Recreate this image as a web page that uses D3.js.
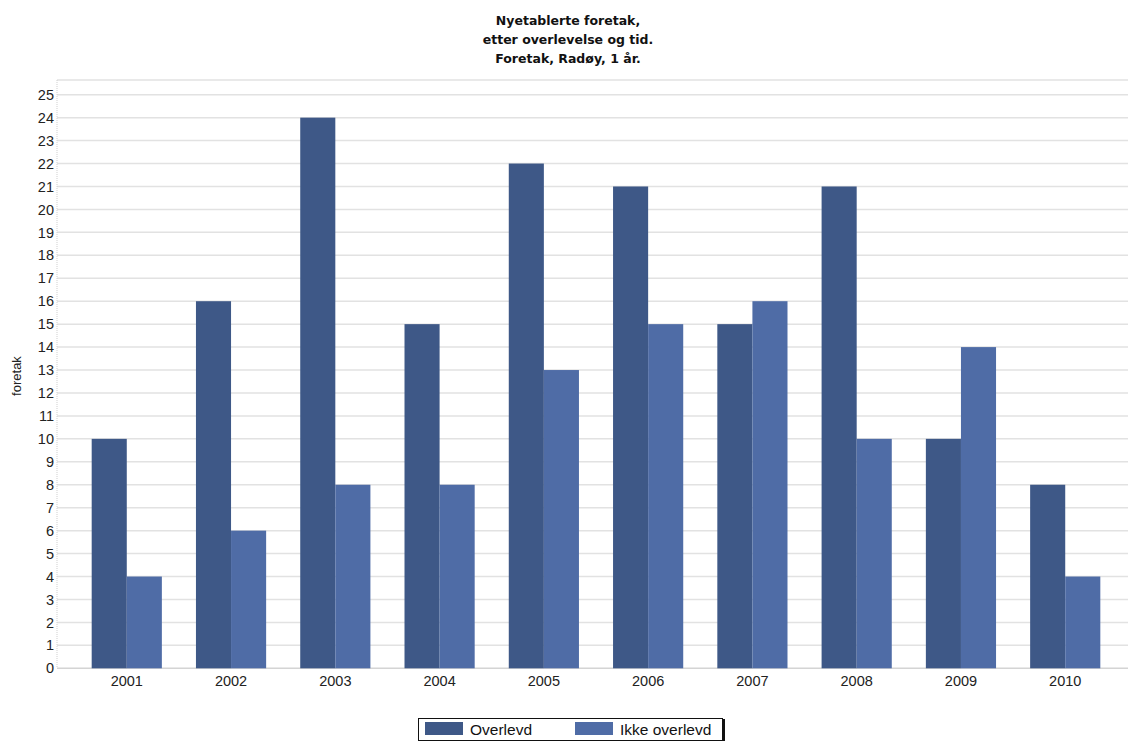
<!DOCTYPE html>
<html><head><meta charset="utf-8">
<script src="https://cdn.jsdelivr.net/npm/d3@7/dist/d3.min.js"></script>
<style>body{margin:0;background:#fff}svg{display:block;font-family:"Liberation Sans",Arial,sans-serif}</style>
</head><body><svg id="c" width="1128" height="741"></svg>
<script>
const years = ["2001","2002","2003","2004","2005","2006","2007","2008","2009","2010"];
const overlevd = [10,16,24,15,22,21,15,21,10,8];
const ikkeOverlevd = [4,6,8,8,13,15,16,10,14,4];
const seriesNames = ["Overlevd","Ikke overlevd"];
const yTicks = d3.range(0,26);
const titleLines = ["Nyetablerte foretak,","etter overlevelse og tid.","Foretak, Radøy, 1 år."];
const colors = ["#3e5887","#4f6ca6"];

const svg = d3.select("#c");
const plotL = 57, plotR = 1128, plotT = 80, plotB = 668;
const x = d3.scaleBand().domain(years).range([75, 1117]).paddingInner(0.327).paddingOuter(0.16);
const y = d3.scaleLinear().domain([0,25]).range([668.3, 94.7]);
const xs = d3.scaleBand().domain(seriesNames).range([0, x.bandwidth()]);

// grid
svg.append("line").attr("x1",plotL).attr("x2",plotR).attr("y1",plotT).attr("y2",plotT).attr("stroke","#e2e2e2").attr("stroke-width",1.5);
svg.append("g").selectAll("line").data(yTicks).join("line")
  .attr("x1",plotL).attr("x2",plotR).attr("y1",d=>y(d)).attr("y2",d=>y(d))
  .attr("stroke",d=>d===0?"#d4d4d4":"#e2e2e2").attr("stroke-width",1.5);
svg.append("line").attr("x1",plotL).attr("x2",plotL).attr("y1",plotT).attr("y2",plotB)
  .attr("stroke","#cfcfcf").attr("stroke-dasharray","1,1");

// y axis labels
const yAxis = d3.axisLeft(y).tickValues(yTicks).tickSize(0).tickPadding(0).tickFormat(d3.format("d"));
const ga = svg.append("g").attr("transform","translate(54,0)").call(yAxis);
ga.select(".domain").remove();
ga.selectAll("text").attr("font-size",14.5).attr("fill","#222").attr("font-family","Liberation Sans, Arial, sans-serif");

// x axis labels
const xAxis = d3.axisBottom(x).tickSize(0).tickPadding(0);
const gx = svg.append("g").attr("transform","translate(0,676)").call(xAxis);
gx.select(".domain").remove();
gx.selectAll("text").attr("font-size",14.5).attr("fill","#222").attr("font-family","Liberation Sans, Arial, sans-serif");

// bars
const data = years.map((yr,i)=>({yr, vals:[overlevd[i], ikkeOverlevd[i]]}));
const grp = svg.append("g").selectAll("g").data(data).join("g").attr("transform",d=>`translate(${x(d.yr)},0)`);
grp.selectAll("rect").data(d=>d.vals.map((v,j)=>({v,j}))).join("rect")
  .attr("x",d=>xs(seriesNames[d.j])).attr("width",xs.bandwidth())
  .attr("y",d=>y(d.v)).attr("height",d=>y(0)-y(d.v))
  .attr("fill",d=>colors[d.j]);

// y title
svg.append("text").attr("transform","translate(21,376) rotate(-90)").attr("text-anchor","middle")
  .attr("font-size",13).attr("fill","#222").text("foretak");

// title
svg.append("g").selectAll("text").data(titleLines).join("text")
  .attr("x",568).attr("y",(d,i)=>25+i*19).attr("text-anchor","middle")
  .attr("font-family","DejaVu Sans, sans-serif")
  .attr("font-size",12.5).attr("font-weight","bold").attr("fill","#111").text(d=>d);

// legend
const lg = svg.append("g");
lg.append("rect").attr("x",421).attr("y",719).attr("width",304).attr("height",22).attr("fill","#111");
lg.append("rect").attr("x",418.5).attr("y",718.5).attr("width",304).attr("height",22).attr("fill","#fff").attr("stroke","#111");
const lx = [425, 575];
seriesNames.forEach((n,i)=>{
  lg.append("rect").attr("x",lx[i]).attr("y",722).attr("width",38).attr("height",13).attr("fill",colors[i]);
  lg.append("text").attr("x",lx[i]+45).attr("y",735).attr("font-size",15.5).attr("fill","#111").text(n);
});
</script></body></html>
